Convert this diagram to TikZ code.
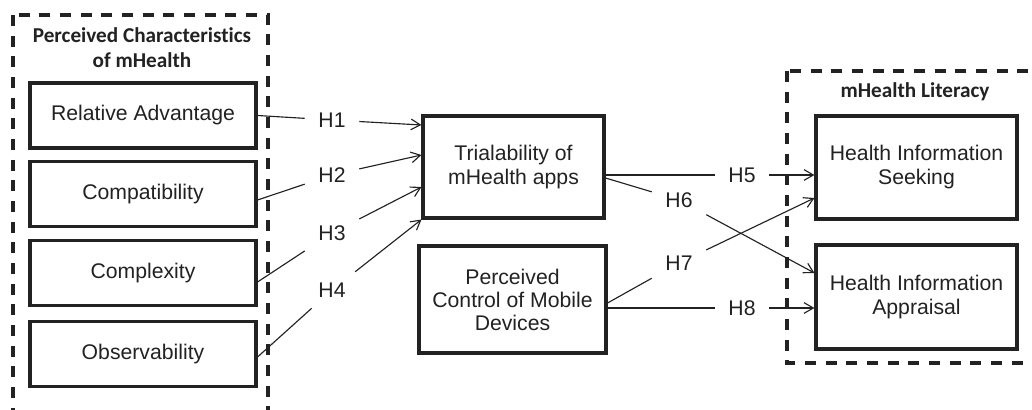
\documentclass[tikz,border=0pt]{standalone}
\usepackage{fontspec}
\setmainfont{Liberation Sans}
\newfontfamily\headfont{Carlito}[Ligatures=NoCommon]
\usetikzlibrary{arrows.meta,calc}

\definecolor{ink}{HTML}{222222}

\tikzset{
  box/.style={draw=ink, line width=2.3pt, fill=white, align=center, text=ink,
    inner sep=0pt, font=\fontsize{15.9}{18}\selectfont},
  groupframe/.style={draw=ink, line width=2.6pt, dash pattern=on 8.25pt off 7.25pt},
  grouptitle/.style={align=center, text=ink, inner sep=0pt,
    font=\headfont\bfseries\fontsize{15.9}{18.75}\selectfont},
  hyp/.style={text=ink, inner sep=0pt, minimum width=40.5pt, minimum height=27pt,
    font=\fontsize{15.9}{18}\selectfont},
  link/.style={draw=ink, line width=0.85pt, -{Straight Barb[length=7pt,width=8pt]}}
}

\begin{document}
\begin{tikzpicture}[x=0.75pt, y=-0.75pt]
  \useasboundingbox (0,0) rectangle (1032,410);
  \clip (0,0) rectangle (1032,410);
  \fill[white] (0,0) rectangle (1032,410);

  % construct groups
  \draw[groupframe] (13,15) rectangle (268,440);
  \draw[groupframe] (787,71) rectangle (1060,363);
  \node[grouptitle] (gleft) at (142,48) {Perceived Characteristics\\of mHealth};
  \node[grouptitle] (gright) at (915,92) {mHealth Literacy};

  % innovation characteristics
  \node[box, minimum width=169.5pt, minimum height=48.75pt] (ra) at (143,115.5) {Relative Advantage};
  \node[box, minimum width=169.5pt, minimum height=48.75pt] (cp) at (143,194) {Compatibility};
  \node[box, minimum width=169.5pt, minimum height=48.75pt] (cx) at (143,273) {Complexity};
  \node[box, minimum width=169.5pt, minimum height=48.75pt] (ob) at (143,354) {Observability};

  % mediators / predictors
  \node[box, minimum width=135.75pt, minimum height=76.5pt] (tri) at (513.5,167) {Trialability of\\mHealth apps};
  \node[box, minimum width=140.25pt, minimum height=80.25pt, font=\fontsize{15.9}{17.25}\selectfont] (pc) at (512.5,299.5) {Perceived\\Control of Mobile\\Devices};

  % literacy outcomes
  \node[box, minimum width=150.75pt, minimum height=77.25pt] (his) at (916.5,167.5) {Health Information\\Seeking};
  \node[box, minimum width=150.75pt, minimum height=78pt] (hia) at (916.5,297) {Health Information\\Appraisal};

  % hypothesis labels
  \node[hyp] (h1) at (332,120) {H1};
  \node[hyp] (h2) at (332,175) {H2};
  \node[hyp] (h3) at (332,233) {H3};
  \node[hyp] (h4) at (332,290) {H4};
  \node[hyp] (h5) at (742,175) {H5};
  \node[hyp] (h6) at (679,200) {H6};
  \node[hyp] (h7) at (679,263) {H7};
  \node[hyp] (h8) at (742,308) {H8};

  % hypothesised paths
  \draw[link] (ra.east) -- (h1) -- ($(tri.west)+(0,-42)$);
  \draw[link] ($(cp.east)+(0,6)$) -- (h2) -- ($(tri.west)+(0,-12)$);
  \draw[link] ($(cx.east)+(0,9)$) -- (h3) -- ($(tri.west)+(0,20)$);
  \draw[link] ($(ob.east)+(0,3)$) -- (h4) -- (tri.south west);
  \draw[link] ($(tri.east)+(0,8)$) -- (h5) -- ($(his.west)+(0,7.5)$);
  \draw[link] ($(tri.east)+(0,11)$) -- (h6) -- ($(hia.west)+(0,-24)$);
  \draw[link] ($(pc.east)+(0,3.5)$) -- (h7) -- ($(his.west)+(0,30.5)$);
  \draw[link] ($(pc.east)+(0,8.5)$) -- (h8) -- ($(hia.west)+(0,11)$);
\end{tikzpicture}
\end{document}
